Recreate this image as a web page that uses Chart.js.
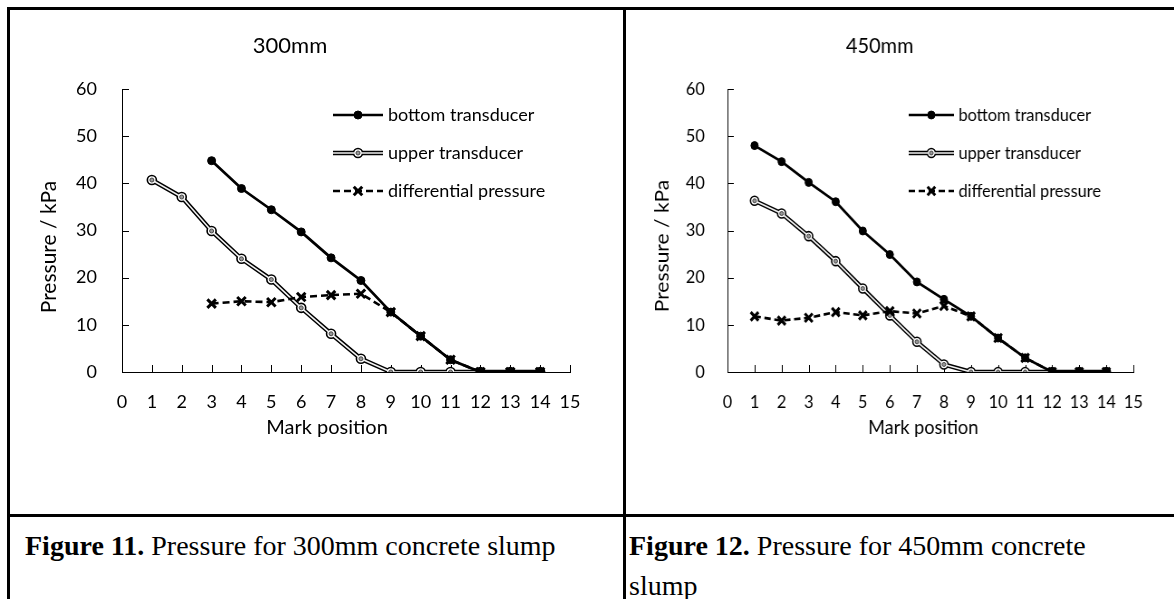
<!DOCTYPE html>
<html>
<head>
<meta charset="utf-8">
<script src="https://cdn.jsdelivr.net/npm/chart.js@4.4.1/dist/chart.umd.min.js"></script>
<style>
  body { margin: 0; width: 1174px; height: 599px; overflow: hidden; background: #fff; position: relative; }
  .rule { position: absolute; background: #000; }
  canvas { position: absolute; top: 10px; }
  #chart300 { left: 10px; }
  #chart450 { left: 626px; transform: scaleX(0.906); transform-origin: 0 0; }
  .caption { position: absolute; top: 526px; font-family: "Liberation Serif", "Times New Roman", serif; font-size: 28px; line-height: 40px; color: #000; white-space: nowrap; }
</style>
</head>
<body>
<div class="rule" style="left:7px; top:7px; width:1167px; height:3px"></div>
<div class="rule" style="left:7px; top:7px; width:3px; height:592px"></div>
<div class="rule" style="left:623px; top:7px; width:3px; height:592px"></div>
<div class="rule" style="left:7px; top:514px; width:1167px; height:3px"></div>

<canvas id="chart300" width="597" height="504"></canvas>
<canvas id="chart450" width="597" height="504"></canvas>

<div class="caption" style="left:25px"><b>Figure 11.</b> Pressure for 300mm concrete slump</div>
<div class="caption" style="left:629px"><b>Figure 12.</b> Pressure for 450mm concrete<br>slump</div>

<script>
// mark positions along the x axis
const marks = [1, 2, 3, 4, 5, 6, 7, 8, 9, 10, 11, 12, 13, 14];
const xTickValues = [0, 1, 2, 3, 4, 5, 6, 7, 8, 9, 10, 11, 12, 13, 14, 15];
const yTickValues = [0, 10, 20, 30, 40, 50, 60];

// 300mm slump (kPa), null = no reading
const bottom300 = [null, null, 44.8, 38.9, 34.4, 29.7, 24.2, 19.4, 12.7, 7.6, 2.6, 0, 0, 0];
const upper300  = [40.7, 37.1, 29.9, 24.0, 19.6, 13.6, 8.1, 2.8, 0, 0, 0, 0, 0, 0];
const diff300   = [null, null, 14.5, 15.0, 14.8, 15.9, 16.3, 16.6, 12.7, 7.6, 2.6, 0, 0, 0];

// 450mm slump (kPa)
const bottom450 = [48.0, 44.6, 40.2, 36.1, 29.9, 24.9, 19.1, 15.4, 11.8, 7.2, 3.0, 0, 0, 0];
const upper450  = [36.3, 33.6, 28.8, 23.5, 17.7, 12.0, 6.4, 1.6, 0, 0, 0, 0, 0, 0];
const diff450   = [11.8, 10.9, 11.5, 12.7, 12.0, 12.9, 12.4, 14.0, 11.8, 7.2, 3.0, 0, 0, 0];

Chart.defaults.font.family = 'Lato, "Open Sans", sans-serif';
Chart.defaults.color = '#000';

function points(vals) {
  return marks.map((m, i) => ({ x: m, y: vals[i] })).filter(p => p.y !== null);
}

function strokeLine(ctx, x0, x1, y, color, width, dash) {
  ctx.beginPath();
  ctx.setLineDash(dash);
  ctx.strokeStyle = color;
  ctx.lineWidth = width;
  ctx.moveTo(x0, y);
  ctx.lineTo(x1, y);
  ctx.stroke();
}

function legendMark(ctx, ds, x0, x1, y) {
  if (ds.borderWidth) strokeLine(ctx, x0, x1, y, ds.borderColor, ds.borderWidth, ds.borderDash || []);
  ctx.setLineDash([]);
  if (!ds.pointRadius) return;
  ctx.fillStyle = ds.pointBackgroundColor;
  ctx.strokeStyle = ds.pointBorderColor;
  ctx.lineWidth = ds.pointBorderWidth;
  Chart.helpers.drawPoint(ctx, {
    pointStyle: ds.pointStyle, radius: ds.pointRadius,
    borderWidth: ds.pointBorderWidth, rotation: 0
  }, (x0 + x1) / 2, y);
}

// small tick marks pointing into the plot, like the excel original
const innerTicks = {
  id: 'innerTicks',
  beforeDatasetsDraw(chart) {
    const { ctx, chartArea, scales } = chart;
    ctx.save();
    ctx.strokeStyle = '#000';
    ctx.lineWidth = 1;
    scales.x.ticks.forEach(t => {
      const px = Math.round(scales.x.getPixelForValue(t.value)) + 0.5;
      ctx.beginPath();
      ctx.moveTo(px, chartArea.bottom);
      ctx.lineTo(px, chartArea.bottom - 7);
      ctx.stroke();
    });
    scales.y.ticks.forEach(t => {
      const py = Math.round(scales.y.getPixelForValue(t.value)) + 0.5;
      ctx.beginPath();
      ctx.moveTo(chartArea.left, py);
      ctx.lineTo(chartArea.left + 7, py);
      ctx.stroke();
    });
    ctx.restore();
  }
};

const axisTitles = {
  id: 'axisTitles',
  afterDraw(chart, args, opts) {
    const ctx = chart.ctx;
    ctx.save();
    ctx.fillStyle = '#000';
    ctx.textAlign = 'center';
    ctx.textBaseline = 'middle';
    ctx.font = `${opts.x.size}px ${Chart.defaults.font.family}`;
    ctx.fillText(opts.x.text, opts.x.cx, opts.x.cy);
    ctx.font = `${opts.y.size}px ${Chart.defaults.font.family}`;
    ctx.translate(opts.y.cx, opts.y.cy);
    ctx.rotate(-Math.PI / 2);
    ctx.fillText(opts.y.text, 0, 0);
    ctx.restore();
  }
};

const insideLegend = {
  id: 'insideLegend',
  afterDraw(chart, args, opts) {
    const ctx = chart.ctx;
    const sets = chart.data.datasets;
    ctx.save();
    let y = opts.top;
    sets.forEach(ds => {
      if (!ds.legendText) return;
      const x0 = opts.left, x1 = opts.left + opts.lineLength;
      if (ds.underlay !== undefined) legendMark(ctx, sets[ds.underlay], x0, x1, y);
      legendMark(ctx, ds, x0, x1, y);
      ctx.fillStyle = '#000';
      ctx.font = `${opts.size}px ${Chart.defaults.font.family}`;
      ctx.textAlign = 'left';
      ctx.textBaseline = 'middle';
      ctx.fillText(ds.legendText, x1 + opts.gap, y);
      y += opts.spacing;
    });
    ctx.restore();
  }
};

function makeChart(id, title, bottom, upper, diff, place) {
  return new Chart(document.getElementById(id), {
    type: 'line',
    data: {
      datasets: [
        {
          // dark outline + ring markers under the pale "upper transducer" line
          data: points(upper),
          borderColor: '#000', borderWidth: 4.5,
          pointStyle: 'circle', pointRadius: 4.5,
          pointBackgroundColor: '#fff', pointBorderColor: '#000', pointBorderWidth: 1.6,
          order: 3
        },
        {
          legendText: 'bottom transducer',
          data: points(bottom),
          borderColor: '#000', borderWidth: 2.7,
          pointStyle: 'circle', pointRadius: 4,
          pointBackgroundColor: '#000', pointBorderColor: '#000', pointBorderWidth: 1,
          order: 1
        },
        {
          legendText: 'upper transducer',
          underlay: 0,
          data: points(upper),
          borderColor: '#f2f2f2', borderWidth: 1.6,
          pointStyle: 'circle', pointRadius: 2,
          pointBackgroundColor: '#999', pointBorderColor: '#444', pointBorderWidth: 1,
          order: 2
        },
        {
          legendText: 'differential pressure',
          data: points(diff),
          borderColor: '#000', borderWidth: 2.6, borderDash: [7, 4],
          pointStyle: 'crossRot', pointRadius: 6,
          pointBackgroundColor: '#000', pointBorderColor: '#000', pointBorderWidth: 3,
          order: 0
        }
      ]
    },
    options: {
      responsive: false,
      animation: false,
      events: [],
      layout: { padding: { left: 0, top: 0, right: 37, bottom: 102 } },
      scales: {
        x: {
          type: 'linear', min: 0, max: 15,
          afterBuildTicks: s => { s.ticks = xTickValues.map(v => ({ value: v })); },
          afterFit: s => { s.height = 40; },
          grid: { display: false, drawTicks: false },
          border: { display: true, color: '#000', width: 1 },
          ticks: { font: { size: 18 }, color: '#000', padding: 19, maxRotation: 0, autoSkip: false }
        },
        y: {
          type: 'linear', min: 0, max: 60,
          afterBuildTicks: s => { s.ticks = yTickValues.map(v => ({ value: v })); },
          afterFit: s => { s.width = 112; },
          grid: { display: false, drawTicks: false },
          border: { display: true, color: '#000', width: 1 },
          ticks: { font: { size: 18 }, color: '#000', padding: 25 }
        }
      },
      plugins: {
        legend: { display: false },
        tooltip: { enabled: false },
        title: {
          display: true,
          text: title,
          color: '#000',
          font: { size: 22, weight: 'normal' },
          padding: { top: 23, bottom: 29.6 }
        },
        axisTitles: {
          x: { text: 'Mark position', size: 20, cx: place.xTitleX, cy: 418 },
          y: { text: 'Pressure / kPa', size: 21, cx: place.yTitleX, cy: place.yTitleY }
        },
        insideLegend: { left: place.legendX, top: 105, spacing: 38, lineLength: 50, gap: 5, size: 18 }
      }
    },
    plugins: [innerTicks, axisTitles, insideLegend]
  });
}

makeChart('chart300', '300mm', bottom300, upper300, diff300,
  { xTitleX: 317, yTitleX: 39, yTitleY: 237, legendX: 323 });
makeChart('chart450', '450mm', bottom450, upper450, diff450,
  { xTitleX: 328, yTitleX: 40, yTitleY: 236, legendX: 312 });
</script>
</body>
</html>
